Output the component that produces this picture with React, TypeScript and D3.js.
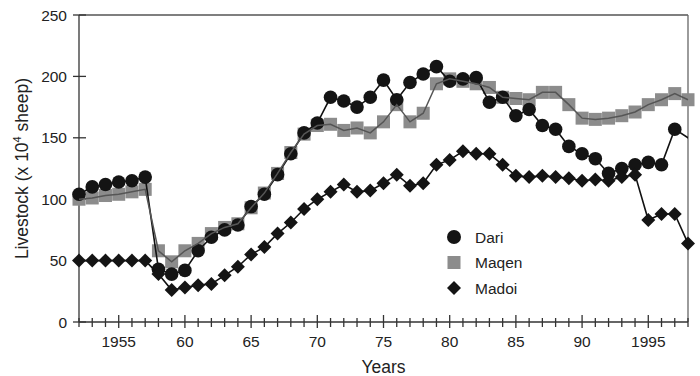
import React, { useRef, useEffect } from "react";
import * as d3 from "d3";

// years 1952..1998 (Dari has one more point past the frame, it gets clipped)
const years = d3.range(1952, 1999);
const dariYears = d3.range(1952, 2000);

const dari = [
   104, 110, 112, 114, 115, 118, 43, 39, 42, 58, 69, 75, 79, 94, 104, 120, 137, 154, 162, 183,
   180, 175, 183, 197, 181, 195, 202, 208, 196, 198, 199, 179, 183, 168, 173, 160, 157, 143,
   137, 133, 121, 125, 128, 130, 128, 157, 150, 143,
];
const maqen = [
   100, 101, 103, 104, 106, 108, 58, 49, 58, 64, 72, 77, 80, 93, 105, 121, 138, 153, 160, 161,
   156, 158, 154, 163, 177, 163, 170, 194, 198, 196, 194, 191, 183, 182, 181, 187, 187, 177,
   166, 165, 166, 168, 171, 177, 181, 186, 181,
];
const madoi = [
   50, 50, 50, 50, 50, 50, 39, 26, 28, 30, 31, 38, 45, 55, 61, 72, 81, 92, 100, 106, 112, 106,
   107, 113, 120, 111, 113, 128, 132, 139, 137, 137, 128, 119, 118, 119, 118, 117, 115, 116,
   115, 118, 120, 83, 88, 88, 64,
];

const yTicks = [0, 50, 100, 150, 200, 250];
const majorYears = [1955, 1960, 1965, 1970, 1975, 1980, 1985, 1990, 1995];
const majorLabels = ["1955", "60", "65", "70", "75", "80", "85", "90", "1995"];
const legendNames = ["Dari", "Maqen", "Madoi"];

const FONT = "Arial, 'Liberation Sans', Helvetica, sans-serif";

const App = () => {
   const svgRef = useRef(null);

   useEffect(() => {
      const svg = d3.select(svgRef.current);
      svg.selectAll("*").remove();

      const margin = { top: 15, right: 12, bottom: 54, left: 79 };
      const width = 700 - margin.left - margin.right;
      const height = 376 - margin.top - margin.bottom;

      const x = d3.scaleLinear().domain([1952, 1998]).range([0, width]);
      const y = d3.scaleLinear().domain([0, 250]).range([height, 0]);

      const g = svg.append("g").attr("transform", `translate(${margin.left},${margin.top})`);

      svg.append("defs")
         .append("clipPath")
         .attr("id", "plot-clip")
         .append("rect")
         .attr("x", 0)
         .attr("y", -10)
         .attr("width", width)
         .attr("height", height + 20);

      // frame: top and right lines
      g.append("line").attr("x1", 0).attr("x2", width).attr("y1", 0).attr("y2", 0)
         .attr("stroke", "#555").attr("stroke-width", 1.3);
      g.append("line").attr("x1", width).attr("x2", width).attr("y1", 0).attr("y2", height)
         .attr("stroke", "#666").attr("stroke-width", 1.3);

      // y axis
      g.append("line").attr("x1", 0).attr("x2", 0).attr("y1", 0).attr("y2", height)
         .attr("stroke", "#333").attr("stroke-width", 1.3);
      yTicks.forEach((t) => {
         g.append("line").attr("x1", -6).attr("x2", 7).attr("y1", y(t)).attr("y2", y(t))
            .attr("stroke", "#333").attr("stroke-width", 1.3);
         g.append("text").attr("x", -12).attr("y", y(t)).attr("dy", "0.36em")
            .attr("text-anchor", "end").attr("font-family", FONT).attr("font-size", 15.5)
            .attr("fill", "#222").text(t);
      });

      // x axis
      g.append("line").attr("x1", 0).attr("x2", width).attr("y1", height).attr("y2", height)
         .attr("stroke", "#333").attr("stroke-width", 1.3);
      years.forEach((yr) => {
         const major = majorYears.includes(yr);
         g.append("line").attr("x1", x(yr)).attr("x2", x(yr))
            .attr("y1", height - (major ? 7 : 4)).attr("y2", height + (major ? 6 : 5))
            .attr("stroke", "#333").attr("stroke-width", 1.3);
      });
      majorYears.forEach((yr, i) => {
         g.append("text").attr("x", x(yr)).attr("y", height + 25)
            .attr("text-anchor", "middle").attr("font-family", FONT).attr("font-size", 15.5)
            .attr("fill", "#222").text(majorLabels[i]);
      });

      // axis titles
      g.append("text").attr("x", width / 2).attr("y", height + 51)
         .attr("text-anchor", "middle").attr("font-family", FONT).attr("font-size", 17.5)
         .attr("fill", "#222").text("Years");
      const yl = svg.append("text")
         .attr("transform", `translate(28,${margin.top + height / 2}) rotate(-90)`)
         .attr("text-anchor", "middle").attr("font-family", FONT).attr("font-size", 17.5)
         .attr("fill", "#222");
      yl.append("tspan").text("Livestock (x 10");
      yl.append("tspan").attr("dy", -7).attr("font-size", 11).text("4");
      yl.append("tspan").attr("dy", 7).text(" sheep)");

      const line = d3.line().x((d) => x(d[0])).y((d) => y(d[1]));
      const dariPts = dariYears.map((yr, i) => [yr, dari[i]]);
      const maqenPts = years.map((yr, i) => [yr, maqen[i]]);
      const madoiPts = years.map((yr, i) => [yr, madoi[i]]);

      // Maqen squares
      g.selectAll(".maqen").data(maqenPts).join("rect")
         .attr("x", (d) => x(d[0]) - 6.5).attr("y", (d) => y(d[1]) - 6.5)
         .attr("width", 13).attr("height", 13).attr("fill", "#8c8c8c");

      // Dari
      g.append("path").datum(dariPts).attr("d", line).attr("fill", "none")
         .attr("stroke", "#111").attr("stroke-width", 1.6).attr("clip-path", "url(#plot-clip)");
      g.selectAll(".dari").data(dariPts.filter((d) => d[0] <= 1997)).join("circle")
         .attr("cx", (d) => x(d[0])).attr("cy", (d) => y(d[1])).attr("r", 6.8).attr("fill", "#141414");

      // Maqen line on top
      g.append("path").datum(maqenPts).attr("d", line).attr("fill", "none")
         .attr("stroke", "#555").attr("stroke-width", 1.5);

      // Madoi
      g.append("path").datum(madoiPts).attr("d", line).attr("fill", "none")
         .attr("stroke", "#111").attr("stroke-width", 1.6);
      const diamond = "M0,-7L7,0L0,7L-7,0Z";
      g.selectAll(".madoi").data(madoiPts).join("path")
         .attr("d", diamond).attr("transform", (d) => `translate(${x(d[0])},${y(d[1])})`)
         .attr("fill", "#141414");

      // legend
      const lx = 454 - margin.left;
      legendNames.forEach((name, i) => {
         const ly = 237 - margin.top + i * 25.5;
         if (i === 0) g.append("circle").attr("cx", lx).attr("cy", ly).attr("r", 7).attr("fill", "#141414");
         if (i === 1) g.append("rect").attr("x", lx - 6.5).attr("y", ly - 6.5).attr("width", 13).attr("height", 13).attr("fill", "#8c8c8c");
         if (i === 2) g.append("path").attr("d", diamond).attr("transform", `translate(${lx},${ly})`).attr("fill", "#141414");
         g.append("text").attr("x", lx + 21).attr("y", ly).attr("dy", "0.36em")
            .attr("font-family", FONT).attr("font-size", 15.5).attr("fill", "#222").text(name);
      });
   }, []);

   return (
      <svg ref={svgRef} width='700' height='376' style={{ position: "absolute", left: 0, top: 0 }} />
   );
};

export default App;
